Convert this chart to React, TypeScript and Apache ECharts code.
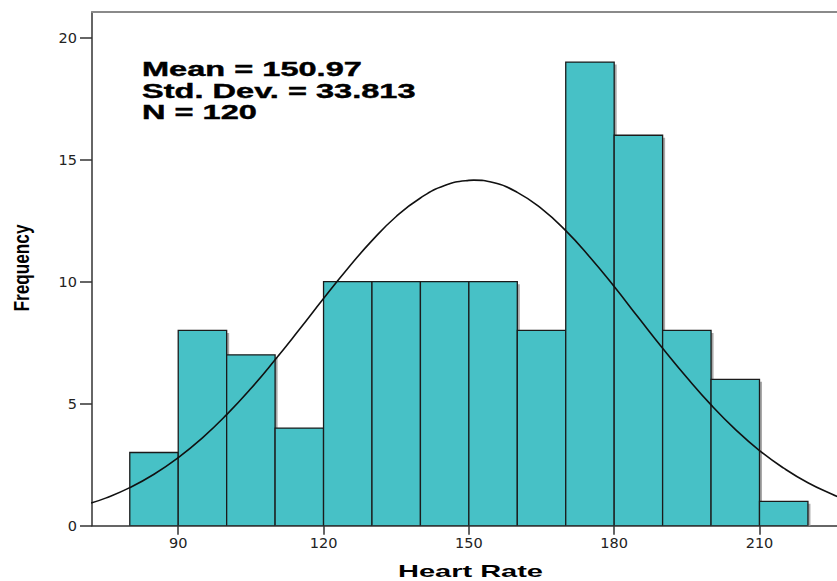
import React, { useEffect, useRef } from "react";
import * as echarts from "echarts";

// Histogram bins (lower edges) and counts
const binStarts = [80, 90, 100, 110, 120, 130, 140, 150, 160, 170, 180, 190, 200, 210];
const binWidth = 10;
const frequencies = [3, 8, 7, 4, 10, 10, 10, 10, 8, 19, 16, 8, 6, 1];

// Normal curve overlay
const curveX = [72, 75, 80, 85, 90, 95, 100, 105, 110, 115, 120, 125, 130, 135, 140, 145, 150, 151, 155, 160, 165, 170, 175, 180, 185, 190, 195, 200, 205, 210, 215, 220, 225, 227];
const curveY = [0.93, 1.13, 1.56, 2.11, 2.79, 3.6, 4.55, 5.62, 6.8, 8.04, 9.31, 10.54, 11.68, 12.67, 13.43, 13.94, 14.15, 14.16, 14.06, 13.66, 12.99, 12.09, 11.0, 9.8, 8.53, 7.27, 6.07, 4.95, 3.95, 3.08, 2.36, 1.76, 1.29, 1.13];

const xTickValues = [90, 120, 150, 180, 210];
const yTickValues = [0, 5, 10, 15, 20];

const statsLines = ["Mean = 150.97", "Std. Dev. = 33.813", "N = 120"];
const xTitle = "Heart Rate";
const yTitle = "Frequency";

const X_MIN = 72.2;
const X_MAX = 226;
const Y_MAX = 21.05;

export default function App() {
  const ref = useRef<HTMLDivElement>(null);

  useEffect(() => {
    if (!ref.current) return;
    const chart = echarts.init(ref.current, null, { renderer: "svg" });

    const barData = binStarts.map((s, i) => [s, s + binWidth, frequencies[i]]);
    const lineData = curveX.map((x, i) => [x, curveY[i]]);

    const labelStyle = {
      color: "#222",
      fontSize: 14.5,
      fontFamily: "'DejaVu Sans', Verdana, sans-serif",
    };

    const option: any = {
      animation: false,
      backgroundColor: "#ffffff",
      grid: { left: 92, right: 0, top: 12, bottom: 55.3, containLabel: false },
      xAxis: [
        {
          type: "value",
          min: X_MIN,
          max: X_MAX,
          position: "bottom",
          axisLine: { show: true, onZero: false, lineStyle: { color: "#333", width: 1.5 } },
          axisTick: { show: true, length: 9, lineStyle: { color: "#333", width: 1.5 }, customValues: xTickValues },
          axisLabel: { show: true, customValues: xTickValues, margin: 10, ...labelStyle },
          splitLine: { show: false },
        },
        {
          type: "value",
          min: X_MIN,
          max: X_MAX,
          position: "top",
          axisLine: { show: true, onZero: false, lineStyle: { color: "#8a8a8a", width: 2 } },
          axisTick: { show: false },
          axisLabel: { show: false },
          splitLine: { show: false },
        },
      ],
      yAxis: {
        type: "value",
        min: 0,
        max: Y_MAX,
        axisLine: { show: true, lineStyle: { color: "#333", width: 1.5 } },
        axisTick: { show: true, length: 12, lineStyle: { color: "#333", width: 1.5 }, customValues: yTickValues },
        axisLabel: { show: true, customValues: yTickValues, margin: 15, ...labelStyle },
        splitLine: { show: false },
      },
      series: [
        {
          type: "custom",
          xAxisIndex: 0,
          data: barData,
          encode: { x: [0, 1], y: 2 },
          clip: true,
          renderItem: (params: any, api: any) => {
            const p0 = api.coord([api.value(0), 0]);
            const p1 = api.coord([api.value(1), api.value(2)]);
            const x = p0[0];
            const y = p1[1];
            const w = p1[0] - p0[0];
            const h = p0[1] - p1[1];
            return {
              type: "group",
              children: [
                {
                  type: "rect",
                  shape: { x: x + 2.5, y: y + 2.5, width: w, height: Math.max(0, h - 2.5) },
                  style: { fill: "#a9a9a9" },
                },
                {
                  type: "rect",
                  shape: { x, y, width: w, height: h },
                  style: { fill: "#47c1c6", stroke: "#1b1b1b", lineWidth: 1.3 },
                },
              ],
            };
          },
          z: 2,
        },
        {
          type: "line",
          xAxisIndex: 0,
          data: lineData,
          smooth: true,
          showSymbol: false,
          symbol: "none",
          clip: true,
          lineStyle: { color: "#111", width: 1.6 },
          z: 3,
        },
      ],
      graphic: [
        {
          type: "text",
          x: 142,
          y: 58.5,
          scaleX: 1.67,
          z: 10,
          style: {
            text: statsLines.join("\n"),
            font: "bold 19.5px 'Liberation Sans', Arial, sans-serif",
            lineHeight: 21.7,
            fill: "#000",
            stroke: "#000",
            lineWidth: 0.4,
            textAlign: "left",
            textVerticalAlign: "top",
          },
        },
        {
          type: "text",
          x: 470.5,
          y: 571,
          scaleX: 1.686,
          z: 10,
          style: {
            text: xTitle,
            font: "bold 17.2px 'Liberation Sans', Arial, sans-serif",
            fill: "#000",
            textAlign: "center",
            textVerticalAlign: "middle",
          },
        },
        {
          type: "text",
          x: 21,
          y: 268,
          rotation: Math.PI / 2,
          scaleY: 1.256,
          z: 10,
          style: {
            text: yTitle,
            font: "bold 17.2px 'Liberation Sans', Arial, sans-serif",
            fill: "#000",
            textAlign: "center",
            textVerticalAlign: "middle",
          },
        },
      ],
    };

    chart.setOption(option);
    return () => chart.dispose();
  }, []);

  return (
    <div
      ref={ref}
      style={{ position: "fixed", left: 0, top: 0, width: 837, height: 581, background: "#fff" }}
    />
  );
}
